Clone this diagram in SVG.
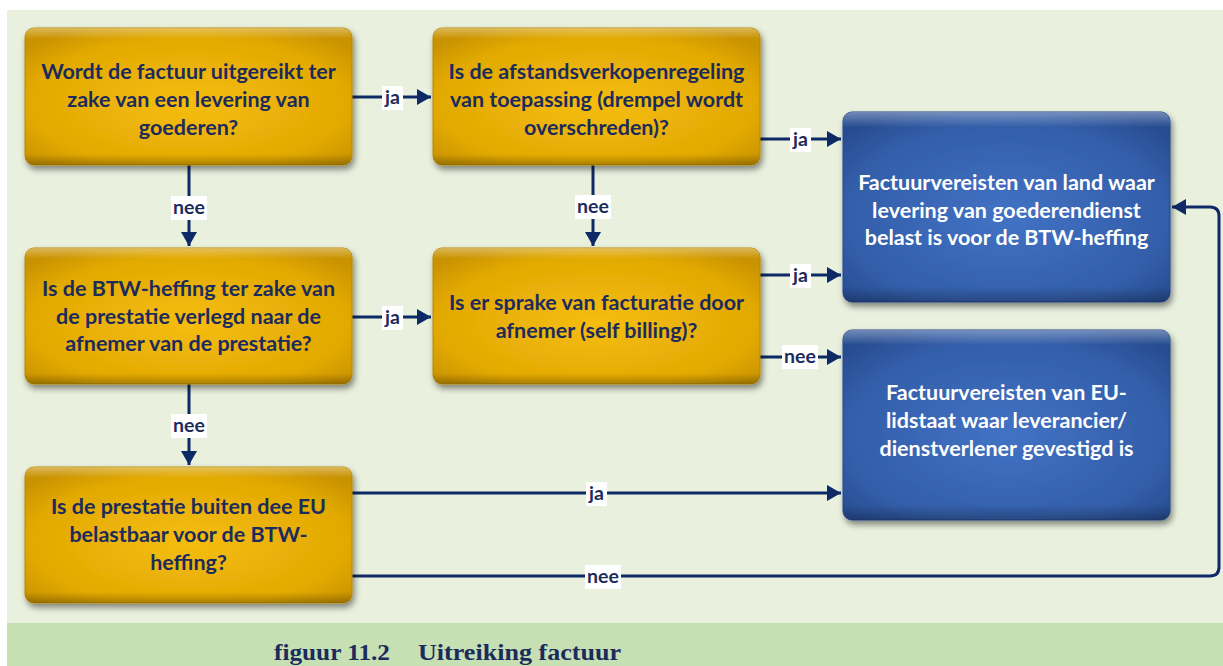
<svg xmlns="http://www.w3.org/2000/svg" width="1223" height="666" viewBox="0 0 1223 666">
<style>
.q{font-family:Lato,"Open Sans","Liberation Sans",sans-serif;font-weight:bold;font-size:21.5px;fill:#1c2b5c;text-anchor:middle}
.r{font-family:Lato,"Open Sans","Liberation Sans",sans-serif;font-weight:bold;font-size:21.5px;fill:#ffffff;text-anchor:middle}
.lb{font-family:Lato,"Open Sans","Liberation Sans",sans-serif;font-weight:bold;font-size:19.5px;fill:#1c2b5c;text-anchor:middle}
.ln{fill:none;stroke:#0d2a66;stroke-width:3}
.gold{fill:url(#gGold);stroke:#b88a00;stroke-width:1;filter:url(#sh)}
.blue{fill:url(#gBlue);stroke:#27468a;stroke-width:1;filter:url(#sh)}
.lbg{fill:#ffffff}
.cap{font-family:"Liberation Serif",serif;font-weight:bold;font-size:24px;fill:#1c2b5c}
</style>
<defs>
<radialGradient id="gGold" cx="0.5" cy="0.55" r="0.65">
<stop offset="0" stop-color="#f6bd0a"/>
<stop offset="0.75" stop-color="#e2a905"/>
<stop offset="1" stop-color="#c89200"/>
</radialGradient>
<radialGradient id="gBlue" cx="0.5" cy="0.55" r="0.65">
<stop offset="0" stop-color="#4272c4"/>
<stop offset="0.75" stop-color="#335ea9"/>
<stop offset="1" stop-color="#284d92"/>
</radialGradient>
<linearGradient id="hl" x1="0" y1="0" x2="0" y2="1">
<stop offset="0" stop-color="#ffffff" stop-opacity="0.35"/>
<stop offset="0.08" stop-color="#ffffff" stop-opacity="0"/>
<stop offset="0.92" stop-color="#000000" stop-opacity="0"/>
<stop offset="1" stop-color="#000000" stop-opacity="0.25"/>
</linearGradient>
<filter id="sh" x="-10%" y="-10%" width="125%" height="130%">
<feDropShadow dx="2" dy="4" stdDeviation="3" flood-color="#000000" flood-opacity="0.45"/>
</filter>
<marker id="ar" markerUnits="userSpaceOnUse" markerWidth="16" markerHeight="18" refX="14" refY="9" orient="auto">
<path d="M0,1 L14,9 L0,17 Z" fill="#0d2a66"/>
</marker>
</defs>
<rect x="0" y="0" width="1223" height="666" fill="#ffffff"/>
<rect x="7" y="10" width="1216" height="613" fill="#e9f0dd"/>
<rect x="7" y="623" width="1216" height="43" fill="#c6e0b4"/>

<g id="connectors">
<path class="ln" d="M352,97 H431" marker-end="url(#ar)"/>
<path class="ln" d="M760,139 H841" marker-end="url(#ar)"/>
<path class="ln" d="M189,165 V246" marker-end="url(#ar)"/>
<path class="ln" d="M593,165 V246" marker-end="url(#ar)"/>
<path class="ln" d="M352,317 H431" marker-end="url(#ar)"/>
<path class="ln" d="M760,275 H841" marker-end="url(#ar)"/>
<path class="ln" d="M760,357 H841" marker-end="url(#ar)"/>
<path class="ln" d="M189,384 V465" marker-end="url(#ar)"/>
<path class="ln" d="M352,493 H841" marker-end="url(#ar)"/>
<path class="ln" d="M352,576 H1210 Q1219,576 1219,567 V216 Q1219,207 1210,207 H1172" marker-end="url(#ar)"/>
<rect class="lbg" x="382" y="86" width="21" height="24"/><text class="lb" x="392.5" y="104">ja</text>
<rect class="lbg" x="790" y="128" width="21" height="24"/><text class="lb" x="800.5" y="146">ja</text>
<rect class="lbg" x="171" y="196" width="36" height="24"/><text class="lb" x="189" y="214">nee</text>
<rect class="lbg" x="575" y="195" width="36" height="24"/><text class="lb" x="593" y="213">nee</text>
<rect class="lbg" x="382" y="306" width="21" height="24"/><text class="lb" x="392.5" y="324">ja</text>
<rect class="lbg" x="790" y="264" width="21" height="24"/><text class="lb" x="800.5" y="282">ja</text>
<rect class="lbg" x="782" y="345" width="36" height="24"/><text class="lb" x="800" y="363">nee</text>
<rect class="lbg" x="171" y="414" width="36" height="24"/><text class="lb" x="189" y="432">nee</text>
<rect class="lbg" x="586" y="482" width="21" height="24"/><text class="lb" x="596.5" y="500">ja</text>
<rect class="lbg" x="585" y="565" width="36" height="24"/><text class="lb" x="603" y="583">nee</text>
</g>

<g id="n1">
<rect class="gold" x="25" y="28" width="327" height="137" rx="9"/>
<rect x="25" y="28" width="327" height="137" rx="9" fill="url(#hl)"/>
<text class="q" x="188.5" y="79">Wordt de factuur uitgereikt ter</text>
<text class="q" x="188.5" y="107">zake van een levering van</text>
<text class="q" x="188.5" y="135">goederen?</text>
</g>
<g id="n2">
<rect class="gold" x="433" y="28" width="327" height="137" rx="9"/>
<rect x="433" y="28" width="327" height="137" rx="9" fill="url(#hl)"/>
<text class="q" x="596.5" y="79">Is de afstandsverkopenregeling</text>
<text class="q" x="596.5" y="107">van toepassing (drempel wordt</text>
<text class="q" x="596.5" y="135">overschreden)?</text>
</g>
<g id="n3">
<rect class="gold" x="25" y="248" width="327" height="136" rx="9"/>
<rect x="25" y="248" width="327" height="136" rx="9" fill="url(#hl)"/>
<text class="q" x="188.5" y="296">Is de BTW-heffing ter zake van</text>
<text class="q" x="188.5" y="324">de prestatie verlegd naar de</text>
<text class="q" x="188.5" y="351">afnemer van de prestatie?</text>
</g>
<g id="n4">
<rect class="gold" x="433" y="248" width="327" height="136" rx="9"/>
<rect x="433" y="248" width="327" height="136" rx="9" fill="url(#hl)"/>
<text class="q" x="596.5" y="310">Is er sprake van facturatie door</text>
<text class="q" x="596.5" y="338">afnemer (self billing)?</text>
</g>
<g id="n5">
<rect class="gold" x="25" y="467" width="327" height="136" rx="9"/>
<rect x="25" y="467" width="327" height="136" rx="9" fill="url(#hl)"/>
<text class="q" x="188.5" y="514">Is de prestatie buiten dee EU</text>
<text class="q" x="188.5" y="542">belastbaar voor de BTW-</text>
<text class="q" x="188.5" y="570">heffing?</text>
</g>
<g id="n6">
<rect class="blue" x="843" y="112" width="327" height="190" rx="9"/>
<rect x="843" y="112" width="327" height="190" rx="9" fill="url(#hl)"/>
<text class="r" x="1006.5" y="190">Factuurvereisten van land waar</text>
<text class="r" x="1006.5" y="218">levering van goederendienst</text>
<text class="r" x="1006.5" y="245">belast is voor de BTW-heffing</text>
</g>
<g id="n7">
<rect class="blue" x="843" y="330" width="327" height="190" rx="9"/>
<rect x="843" y="330" width="327" height="190" rx="9" fill="url(#hl)"/>
<text class="r" x="1006.5" y="400">Factuurvereisten van EU-</text>
<text class="r" x="1006.5" y="428">lidstaat waar leverancier/</text>
<text class="r" x="1006.5" y="456">dienstverlener gevestigd is</text>
</g>
<text class="cap" x="274" y="660" textLength="116" lengthAdjust="spacingAndGlyphs">figuur 11.2</text>
<text class="cap" x="418" y="660" textLength="203" lengthAdjust="spacingAndGlyphs">Uitreiking factuur</text>
</svg>
